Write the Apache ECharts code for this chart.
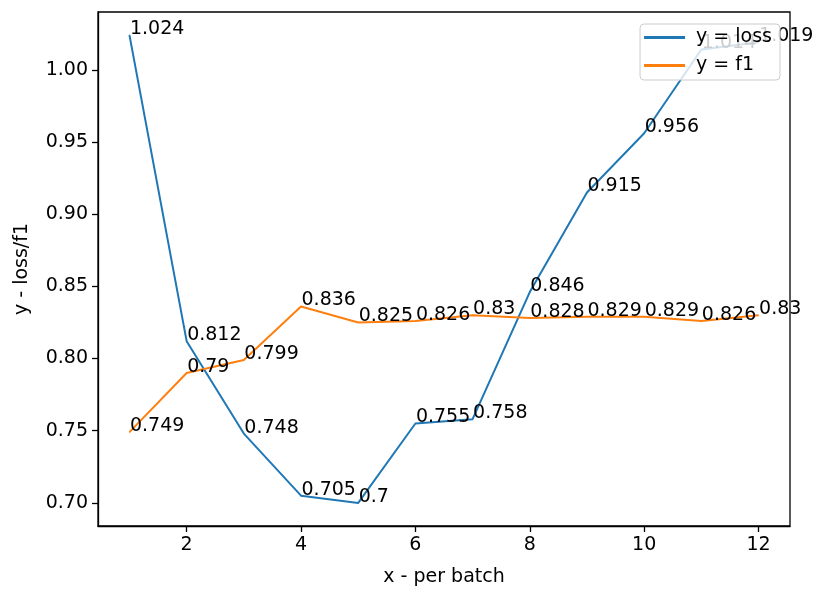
<!DOCTYPE html>
<html>
<head>
<meta charset="utf-8">
<script src="https://cdn.jsdelivr.net/npm/echarts@6/dist/echarts.min.js"></script>
<style>
    html, body { margin: 0; padding: 0; background: #fff; }
    #chart { width: 830px; height: 612px; }
</style>
</head>
<body>
<div id="chart"></div>
<script>
// data
var batches = [1, 2, 3, 4, 5, 6, 7, 8, 9, 10, 11, 12];
var loss = [1.024, 0.812, 0.748, 0.705, 0.7, 0.755, 0.758, 0.846, 0.915, 0.956, 1.014, 1.019];
var f1 = [0.749, 0.79, 0.799, 0.836, 0.825, 0.826, 0.83, 0.828, 0.829, 0.829, 0.826, 0.83];
var xTicks = [2, 4, 6, 8, 10, 12];
var yTicks = [0.70, 0.75, 0.80, 0.85, 0.90, 0.95, 1.00];

var font = 'DejaVu Sans';
var fs = 19;

function pairs(ys) {
    return batches.map(function (x, i) { return [x, ys[i]]; });
}

function lineSeries(name, ys, color) {
    return {
        name: name,
        type: 'line',
        data: pairs(ys),
        symbol: 'circle',
        symbolSize: 1,
        itemStyle: { color: color },
        lineStyle: { color: color, width: 2 },
        emphasis: { disabled: true },
        label: {
            show: true,
            position: [0, 0],
            align: 'left',
            verticalAlign: 'bottom',
            offset: [1, 4],
            color: '#000',
            fontFamily: font,
            fontSize: fs,
            formatter: function (p) { return String(p.value[1]); }
        }
    };
}

var e1 = echarts.init(document.getElementById('chart'));
e1.setOption({
    animation: false,
    grid: {
        left: 98,
        right: 40,
        top: 12,
        bottom: 86,
        show: true,
        borderColor: '#000',
        borderWidth: 1.3
    },
    legend: {
        orient: 'vertical',
        right: 50,
        top: 24,
        icon: 'rect',
        itemWidth: 41,
        itemHeight: 3,
        itemGap: 9,
        padding: [4, 8, 5, 4],
        backgroundColor: 'rgba(255,255,255,0.8)',
        borderColor: '#ccc',
        borderWidth: 1,
        borderRadius: 4,
        textStyle: { fontFamily: font, fontSize: fs, color: '#000', padding: [0, 0, 0, 6] },
        data: ['y = loss', 'y = f1']
    },
    xAxis: {
        type: 'value',
        min: 0.45,
        max: 12.55,
        name: 'x - per batch',
        nameLocation: 'middle',
        nameGap: 42,
        nameTextStyle: { fontFamily: font, fontSize: fs, color: '#000' },
        splitLine: { show: false },
        axisLine: { show: true, lineStyle: { color: '#000', width: 1.3 } },
        axisTick: { show: true, customValues: xTicks, length: 6, lineStyle: { color: '#000', width: 1.3 } },
        axisLabel: { customValues: xTicks, color: '#000', fontFamily: font, fontSize: fs, margin: 10 }
    },
    yAxis: {
        type: 'value',
        min: 0.684,
        max: 1.040,
        name: 'y - loss/f1',
        nameLocation: 'middle',
        nameGap: 66,
        nameTextStyle: { fontFamily: font, fontSize: fs, color: '#000' },
        splitLine: { show: false },
        axisLine: { show: true, lineStyle: { color: '#000', width: 1.3 } },
        axisTick: { show: true, customValues: yTicks, length: 6, lineStyle: { color: '#000', width: 1.3 } },
        axisLabel: {
            customValues: yTicks,
            color: '#000',
            fontFamily: font,
            fontSize: fs,
            margin: 10,
            formatter: function (v) { return v.toFixed(2); }
        }
    },
    series: [
        lineSeries('y = loss', loss, '#1f77b4'),
        lineSeries('y = f1', f1, '#ff7f0e')
    ]
});
</script>
</body>
</html>
